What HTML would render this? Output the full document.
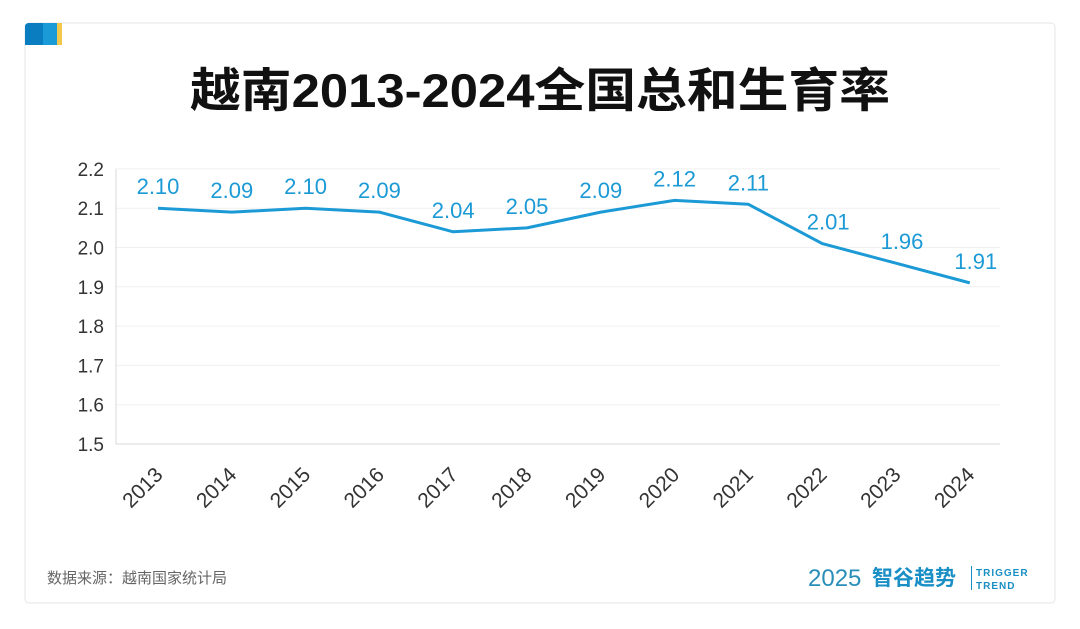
<!DOCTYPE html>
<html><head><meta charset="utf-8"><style>
html,body{margin:0;padding:0;background:#fff;width:1080px;height:629px;overflow:hidden}
svg{display:block}
text{font-family:"Liberation Sans","Noto Sans CJK SC",sans-serif}
</style></head><body>
<svg id="chart" width="1080" height="629" viewBox="0 0 1080 629">
<rect x="25" y="23" width="1030" height="580" rx="4" fill="#fff" stroke="#e6e6e6"/>
<path d="M29 23 H43 V45 H25 V27 Q25 23 29 23Z" fill="#0a7cc0"/>
<rect x="43" y="23" width="14" height="22" fill="#1a9ad6"/>
<rect x="57" y="23" width="5" height="22" fill="#f1c84b"/>
<text x="540" y="107" text-anchor="middle" font-size="47" font-weight="bold" fill="#111" textLength="700" lengthAdjust="spacingAndGlyphs">越南2013-2024全国总和生育率</text>
<g id="grid"></g><g id="yticks"></g><g id="xticks"></g>
<path id="line" fill="none" stroke="#1c9ad6" stroke-width="3" stroke-linejoin="round"/>
<g id="labels"></g>
<text x="47" y="583" font-size="15" fill="#666">数据来源：越南国家统计局</text>
<text x="808" y="586" font-size="24" fill="#2a8fb8" font-weight="300">2025</text>
<text x="872" y="585" font-size="21" font-weight="bold" fill="#1a8fc6">智谷趋势</text>
<rect x="971" y="566" width="1" height="24" fill="#1a8fc6"/>
<text x="976" y="576" font-size="10" font-weight="bold" fill="#1a8fc6" font-family="Liberation Serif" letter-spacing="1">TRIGGER</text>
<text x="976" y="589" font-size="10" font-weight="bold" fill="#1a8fc6" font-family="Liberation Serif" letter-spacing="1">TREND</text>
</svg>
<script>
const years=["2013","2014","2015","2016","2017","2018","2019","2020","2021","2022","2023","2024"];
const values=[2.10,2.09,2.10,2.09,2.04,2.05,2.09,2.12,2.11,2.01,1.96,1.91];
const valueLabels=["2.10","2.09","2.10","2.09","2.04","2.05","2.09","2.12","2.11","2.01","1.96","1.91"];
const yTicks=[1.5,1.6,1.7,1.8,1.9,2.0,2.1,2.2];
const NS="http://www.w3.org/2000/svg";
const X0=158,DX=73.8,Y0=444,YS=393;
const xs=i=>X0+i*DX, ys=v=>Y0-(v-1.5)*YS;
function mk(t,a,p,txt){const e=document.createElementNS(NS,t);for(const k in a)e.setAttribute(k,a[k]);if(txt!=null)e.textContent=txt;document.getElementById(p).appendChild(e);return e;}
yTicks.forEach(v=>{
  const y=ys(v);
  const g=mk("line",{x1:116,x2:1000,y1:y,y2:y,stroke:v===1.5?"#d8d8d8":"#f0f0f0","stroke-width":1},"grid");
  
  
  const t=mk("text",{x:104,y:y+7,"text-anchor":"end","font-size":19,fill:"#333"},"yticks",v.toFixed(1));
  
  
});
const ax=mk("line",{x1:116,x2:116,y1:ys(2.2),y2:Y0,stroke:"#d8d8d8"},"grid");


years.forEach((yr,i)=>{
  const x=xs(i)+6,y=Y0+32;
  const t=mk("text",{x:x,y:y,"text-anchor":"end","font-size":21,fill:"#333",transform:`rotate(-45 ${x} ${y})`},"xticks",yr);
  
  
});
document.getElementById("line").setAttribute("d",values.map((v,i)=>(i?"L":"M")+xs(i)+" "+ys(v)).join(" "));
values.forEach((v,i)=>{
  const t=mk("text",{x:xs(i)+(i>=9?6:0),y:ys(v)-14,"text-anchor":"middle","font-size":22,fill:"#1c9ad6"},"labels",valueLabels[i]);
  
  
});
</script>
</body></html>
